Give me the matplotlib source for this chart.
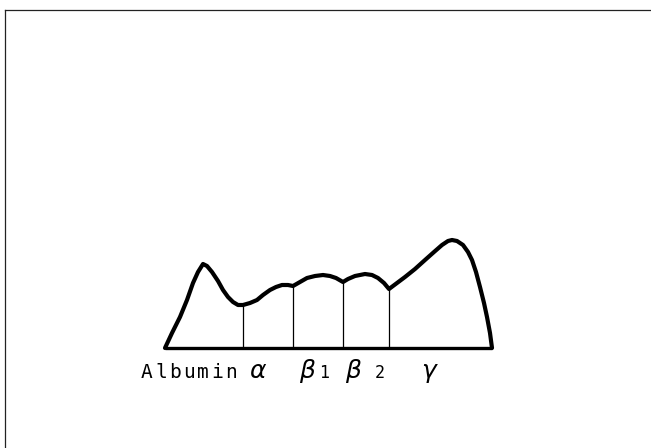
import matplotlib.pyplot as plt

# densitometer trace of a serum protein strip: migration position vs. stain density
pos = [165, 172, 180, 187, 193, 198, 203, 207, 212, 218, 223, 228, 233, 238,
       243, 250, 257, 263, 270, 276, 282, 288, 293, 300, 307, 315, 323, 330,
       336, 343, 348, 355, 365, 372, 378, 384, 389, 397, 405, 415, 425, 434,
       442, 448, 452, 457, 463, 468, 472, 476, 480, 484, 487, 490, 492]
dens = [0, 15, 31, 48, 65, 76, 84, 82, 76, 67, 58, 51, 46, 43,
        43, 45, 48, 53, 58, 61, 63, 63, 62, 66, 70, 72, 73, 72,
        70, 66, 69, 72, 74, 73, 70, 65, 59, 65, 71, 79, 88, 96,
        103, 107, 108, 107, 103, 96, 88, 76, 61, 45, 31, 15, 0]

# fraction boundaries (position, trace height there)
cut_pos = [243, 293, 343, 389]
cut_h = [43, 62, 66, 59]

frac_names = ["Albumin", r"$\alpha$", r"$\beta$", r"$\beta$", r"$\gamma$"]
frac_x = [140, 258, 308, 354, 430]
frac_sub = ["", "", "1", "2", ""]
sub_x = [0, 0, 324, 380, 0]

fig = plt.figure(figsize=(6.51, 4.48), dpi=100)
ax = fig.add_axes([0, 0, 1, 1])
ax.set_xlim(0, 651)
ax.set_ylim(-100, 348)
ax.axis("off")

# border (top and left edge only)
ax.plot([4.5, 651], [338, 338], color="#222222", lw=0.9)
ax.plot([4.5, 4.5], [338, -100], color="#222222", lw=0.9)

ax.plot(pos, dens, color="black", lw=3.0, solid_joinstyle="round",
        solid_capstyle="round")
ax.plot([pos[0], pos[-1]], [0, 0], color="black", lw=2.4, solid_capstyle="butt")
for x, h in zip(cut_pos, cut_h):
    ax.plot([x, x], [0, h], color="black", lw=0.9)

# labels under the baseline
ty = -30
for name, x, s, sx in zip(frac_names, frac_x, frac_sub, sub_x):
    if name == "Albumin":
        for i, ch in enumerate(name):
            ax.text(x + 7 + i * 14, ty, ch, ha="center", va="baseline",
                    family="DejaVu Sans Mono", fontsize=14)
    else:
        ax.text(x, ty, name, ha="center", va="baseline", fontsize=18)
    if s:
        ax.text(sx, ty, s, ha="center", va="baseline",
                family="DejaVu Sans Mono", fontsize=12)

fig.savefig("out.png", dpi=100, facecolor="white")
